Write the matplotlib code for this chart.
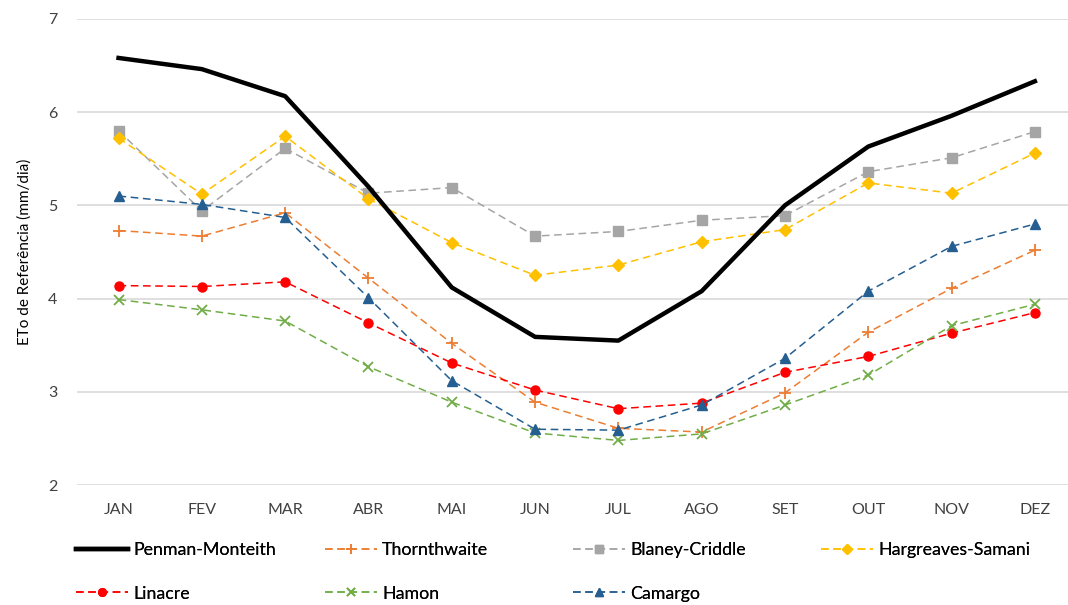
import matplotlib.pyplot as plt

plt.rcParams['font.family'] = ['Lato', 'DejaVu Sans']

meses = ['JAN', 'FEV', 'MAR', 'ABR', 'MAI', 'JUN', 'JUL', 'AGO', 'SET', 'OUT', 'NOV', 'DEZ']

penman = [6.58, 6.46, 6.17, 5.20, 4.12, 3.59, 3.55, 4.08, 5.00, 5.63, 5.96, 6.33]
thornthwaite = [4.73, 4.67, 4.92, 4.22, 3.52, 2.89, 2.61, 2.57, 2.99, 3.64, 4.11, 4.52]
blaney = [5.80, 4.94, 5.61, 5.13, 5.19, 4.67, 4.72, 4.84, 4.89, 5.36, 5.51, 5.79]
hargreaves = [5.72, 5.12, 5.74, 5.07, 4.60, 4.25, 4.36, 4.61, 4.74, 5.24, 5.13, 5.56]
linacre = [4.14, 4.13, 4.18, 3.74, 3.31, 3.02, 2.82, 2.88, 3.21, 3.38, 3.63, 3.85]
hamon = [3.99, 3.88, 3.76, 3.27, 2.89, 2.56, 2.48, 2.55, 2.86, 3.18, 3.71, 3.94]
camargo = [5.10, 5.01, 4.87, 4.01, 3.12, 2.60, 2.59, 2.86, 3.36, 4.08, 4.56, 4.80]

fig = plt.figure(figsize=(10.68, 6.05), dpi=100)
ax = fig.add_axes([0.072, 0.198, 0.936, 0.771])

x = range(len(meses))
dash = (0, (5, 3))
lw = 1.1

l_pm, = ax.plot(x, penman, color='black', lw=3.2, label='Penman-Monteith', zorder=5)
l_th, = ax.plot(x, thornthwaite, color='#ED7D31', lw=lw, ls=dash, marker='+', ms=9, mew=1.3, label='Thornthwaite')
l_bc, = ax.plot(x, blaney, color='#A5A5A5', lw=lw, ls=dash, marker='s', ms=7, label='Blaney-Criddle')
l_hs, = ax.plot(x, hargreaves, color='#FFC000', lw=lw, ls=dash, marker='D', ms=6, label='Hargreaves-Samani')
l_li, = ax.plot(x, linacre, color='#FF0000', lw=lw, ls=dash, marker='o', ms=6.5, label='Linacre')
l_ha, = ax.plot(x, hamon, color='#70AD47', lw=lw, ls=dash, marker='x', ms=7, mew=1.3, label='Hamon')
l_ca, = ax.plot(x, camargo, color='#255E91', lw=lw, ls=dash, marker='^', ms=7.5, label='Camargo')

ax.set_xlim(-0.5, 11.5)
ax.set_ylim(2, 7)
ax.set_yticks([2, 3, 4, 5, 6, 7])
ax.set_xticks(list(x))
ax.set_xticklabels(meses)
ax.grid(axis='y', color='#d9d9d9', lw=1.2)
ax.set_axisbelow(True)
for s in ax.spines.values():
    s.set_visible(False)
ax.tick_params(length=0, labelsize=11.5, colors='#404040')
ax.tick_params(axis='x', pad=13)
ax.tick_params(axis='y', pad=14)
ax.set_ylabel('ETo de Referência (mm/dia)', fontsize=11, color='black', labelpad=12)

# legenda em 4 colunas de largura fixa, como no Excel
cols = [[l_pm, l_li], [l_th, l_ha], [l_bc, l_ca], [l_hs]]
xs = [76, 325, 573, 821]
for hs, xp in zip(cols, xs):
    lg = fig.legend(handles=hs, loc='upper left', bbox_to_anchor=(xp / 1068, 1 - 542 / 605),
                    frameon=False, fontsize=12.8, handlelength=2.9, handletextpad=0.3,
                    labelspacing=1.55, borderpad=0, borderaxespad=0, markerscale=0.85)
    fig.add_artist(lg)

fig.savefig('out.png', dpi=100)
